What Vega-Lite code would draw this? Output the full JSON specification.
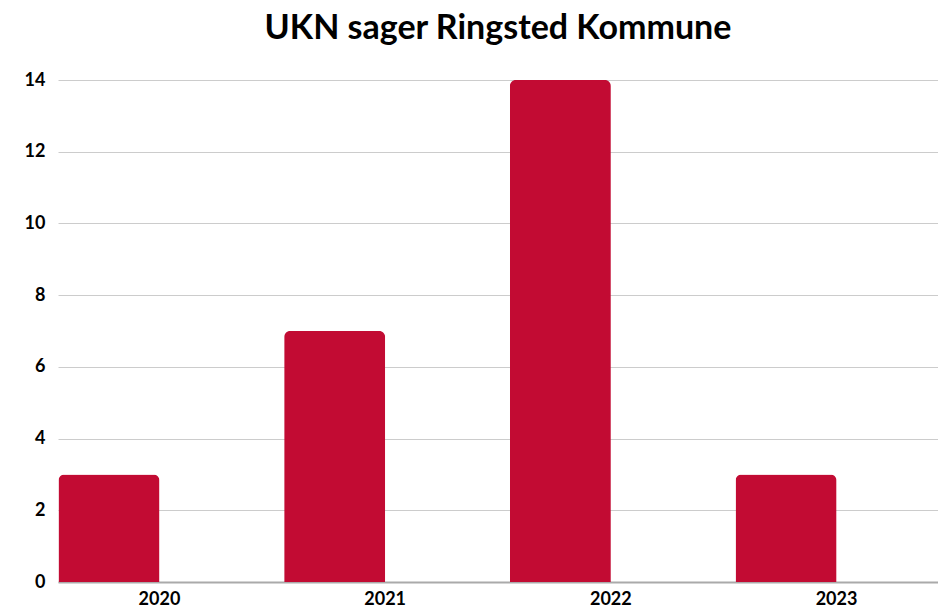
{
  "$schema": "https://vega.github.io/schema/vega-lite/v6.json",
  "width": 880,
  "height": 502,
  "autosize": {"type": "none"},
  "padding": {"left": 58, "top": 80, "right": 0, "bottom": 26},
  "background": "white",
  "title": {
    "text": "UKN sager Ringsted Kommune",
    "font": "Lato",
    "fontSize": 34,
    "fontWeight": "bold",
    "color": "#000000",
    "anchor": "middle",
    "offset": 25
  },
  "data": {
    "values": [
      {"year": "2020", "series": "a", "value": 3},
      {"year": "2021", "series": "a", "value": 7},
      {"year": "2022", "series": "a", "value": 14},
      {"year": "2023", "series": "a", "value": 3}
    ]
  },
  "config": {
    "view": {"stroke": null},
    "axis": {"labelFont": "Lato", "labelFontWeight": "bold", "labelFontSize": 18, "labelColor": "#000000", "title": null}
  },
  "mark": {"type": "bar", "color": "#C20B33", "cornerRadiusTopLeft": 6, "cornerRadiusTopRight": 6},
  "encoding": {
    "x": {
      "field": "year",
      "type": "nominal",
      "scale": {"paddingInner": 0.105, "paddingOuter": 0.002},
      "axis": {"labelAngle": 0, "ticks": false, "domainColor": "#aaaaaa", "domainWidth": 2, "labelPadding": 8, "grid": false}
    },
    "xOffset": {
      "field": "series",
      "type": "nominal",
      "scale": {"domain": ["a", "b"], "paddingInner": 0, "paddingOuter": 0}
    },
    "y": {
      "field": "value",
      "type": "quantitative",
      "scale": {"domain": [0, 14], "nice": false},
      "axis": {"values": [0, 2, 4, 6, 8, 10, 12, 14], "ticks": false, "domain": false, "gridColor": "#cccccc", "gridWidth": 1, "labelPadding": 13}
    }
  }
}
